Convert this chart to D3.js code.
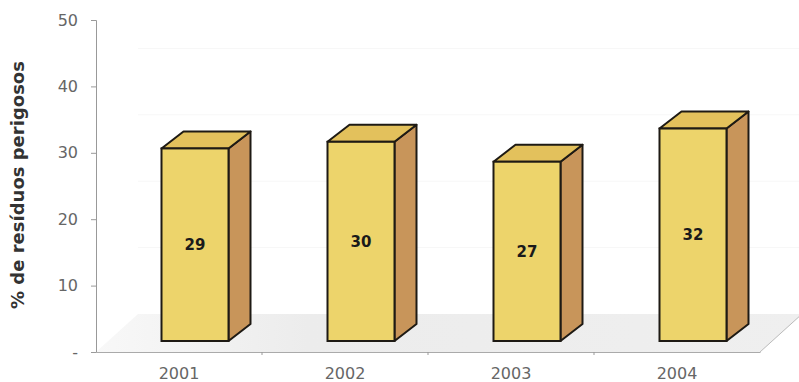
<!DOCTYPE html>
<html>
<head>
<meta charset="utf-8">
<script src="https://cdn.jsdelivr.net/npm/d3@7"></script>
<style>
  html, body { margin: 0; padding: 0; background: #ffffff; }
  svg { display: block; }
</style>
</head>
<body>
<svg id="chart" width="799" height="382"></svg>
<script>
// Hazardous waste share per year
const years = ["2001", "2002", "2003", "2004"];
const values = [29, 30, 27, 32];
const yTicks = [0, 10, 20, 30, 40, 50];
const yTickLabels = ["-", "10", "20", "30", "40", "50"];
const yTitle = "% de resíduos perigosos";

const svg = d3.select("#chart");

const y = d3.scaleLinear().domain([0, 50]).range([352, 20]);
const x = d3.scaleBand().domain(years).range([96, 760]);

// 3D projection of the bar boxes and the floor
const floorDx = 42, floorDy = -38;
const barDx = 22, barDy = -17;
const faceShiftX = 16, faceShiftY = -11;
const barW = 67;

const defs = svg.append("defs");
const fg = defs.append("linearGradient").attr("id", "floorGrad")
  .attr("x1", "0%").attr("x2", "100%").attr("y1", "0%").attr("y2", "0%");
fg.append("stop").attr("offset", "0%").attr("stop-color", "#f8f8f8");
fg.append("stop").attr("offset", "30%").attr("stop-color", "#ececec");
fg.append("stop").attr("offset", "100%").attr("stop-color", "#efefef");

// faint back-wall gridlines
svg.append("g").selectAll("line")
  .data(yTicks.filter(t => t > 0))
  .join("line")
  .attr("x1", x.range()[0] + floorDx)
  .attr("x2", x.range()[1] + floorDx)
  .attr("y1", d => y(d) + floorDy)
  .attr("y2", d => y(d) + floorDy)
  .attr("stroke", "#f7f7f7")
  .attr("stroke-width", 1);

// floor
const x0 = x.range()[0], x1 = x.range()[1], yb = y(0);
svg.append("path")
  .attr("d", `M${x0},${yb} L${x1},${yb} L${x1 + floorDx},${yb + floorDy} L${x0 + floorDx},${yb + floorDy} Z`)
  .attr("fill", "url(#floorGrad)")
  .attr("stroke", "none");
svg.append("line")
  .attr("x1", x1).attr("y1", yb)
  .attr("x2", x1 + floorDx).attr("y2", yb + floorDy)
  .attr("stroke", "#bbbbbb").attr("stroke-width", 1);

// value axis
const yAxis = d3.axisLeft(y)
  .tickValues(yTicks)
  .tickFormat((d, i) => yTickLabels[i])
  .tickSize(5)
  .tickPadding(13);
const gy = svg.append("g").attr("transform", `translate(${x0},0)`).call(yAxis);
gy.select(".domain").attr("stroke", "#999999").attr("stroke-width", 1);
gy.selectAll(".tick line").attr("stroke", "#999999");
gy.selectAll(".tick text")
  .attr("fill", "#666666")
  .style("font-family", "'DejaVu Sans', Verdana, sans-serif")
  .style("font-size", "16px");

// category axis
const xAxis = d3.axisBottom(x).tickSize(0).tickPadding(16);
const gx = svg.append("g").attr("transform", `translate(0,${yb})`).call(xAxis);
gx.select(".domain").attr("stroke", "#aaaaaa").attr("stroke-width", 1.2);
gx.selectAll(".tick text")
  .attr("fill", "#666666")
  .style("font-family", "'DejaVu Sans', Verdana, sans-serif")
  .style("font-size", "16px");
// small separators between categories
svg.append("g").selectAll("line")
  .data(years.slice(1))
  .join("line")
  .attr("x1", d => x(d)).attr("x2", d => x(d))
  .attr("y1", yb).attr("y2", yb + 3)
  .attr("stroke", "#999999");

// axis title
svg.append("text")
  .attr("transform", "translate(24,185) rotate(-90)")
  .attr("text-anchor", "middle")
  .attr("fill", "#333333")
  .style("font-family", "'DejaVu Sans', Verdana, sans-serif")
  .style("font-weight", "bold")
  .style("font-size", "18px")
  .text(yTitle);

// bars as boxes
const bars = svg.append("g").selectAll("g")
  .data(years.map((yr, i) => ({ yr, v: values[i] })))
  .join("g");

const faceLeft = d => x(d.yr) + x.bandwidth() / 2 + faceShiftX - barW / 2;
const faceTop = d => y(d.v) + faceShiftY;
const faceBottom = d => y(0) + faceShiftY;

bars.append("path") // side
  .attr("d", d => {
    const r = faceLeft(d) + barW, t = faceTop(d), b = faceBottom(d);
    return `M${r},${t} L${r + barDx},${t + barDy} L${r + barDx},${b + barDy} L${r},${b} Z`;
  })
  .attr("fill", "#c8955a")
  .attr("stroke", "#1e1a14").attr("stroke-width", 2).attr("stroke-linejoin", "round");

bars.append("path") // top
  .attr("d", d => {
    const l = faceLeft(d), r = l + barW, t = faceTop(d);
    return `M${l},${t} L${l + barDx},${t + barDy} L${r + barDx},${t + barDy} L${r},${t} Z`;
  })
  .attr("fill", "#e3c15c")
  .attr("stroke", "#1e1a14").attr("stroke-width", 2).attr("stroke-linejoin", "round");

bars.append("rect") // front
  .attr("x", d => faceLeft(d))
  .attr("y", d => faceTop(d))
  .attr("width", barW)
  .attr("height", d => faceBottom(d) - faceTop(d))
  .attr("fill", "#edd46b")
  .attr("stroke", "#1e1a14").attr("stroke-width", 2);

bars.append("text")
  .attr("x", d => faceLeft(d) + barW / 2)
  .attr("y", d => (faceTop(d) + faceBottom(d)) / 2)
  .attr("dy", "0.35em")
  .attr("text-anchor", "middle")
  .attr("fill", "#1a1a1a")
  .style("font-family", "'DejaVu Sans', Verdana, sans-serif")
  .style("font-weight", "bold")
  .style("font-size", "15px")
  .text(d => d.v);
</script>
</body>
</html>
